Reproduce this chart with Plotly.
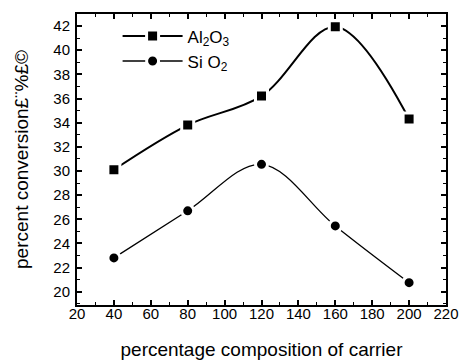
import plotly.graph_objects as go

x_vals = [40, 80, 120, 160, 200]
al2o3 = [30.1, 33.8, 36.2, 41.95, 34.3]
sio2 = [22.8, 26.7, 30.55, 25.45, 20.75]
x_ticks = [20, 40, 60, 80, 100, 120, 140, 160, 180, 200, 220]
y_ticks = [20, 22, 24, 26, 28, 30, 32, 34, 36, 38, 40, 42]

FONT = "Liberation Sans, Arial"

fig = go.Figure()
fig.add_trace(go.Scatter(
    x=x_vals, y=al2o3, mode="lines+markers", name="Al<sub>2</sub>O<sub>3</sub>",
    line=dict(color="black", width=2, shape="spline", smoothing=1.0),
    marker=dict(symbol="square", size=12, color="black", line=dict(color="white", width=3)),
))
fig.add_trace(go.Scatter(
    x=x_vals, y=sio2, mode="lines+markers", name="Si O<sub>2</sub>",
    line=dict(color="black", width=1.3, shape="spline", smoothing=1.0),
    marker=dict(symbol="circle", size=12, color="black", line=dict(color="white", width=3)),
))

axis_common = dict(
    showline=True, linecolor="black", linewidth=2, mirror="allticks",
    ticks="inside", ticklen=5, tickwidth=1.5, tickcolor="black",
    showgrid=False, zeroline=False, automargin=False,
    tickfont=dict(family=FONT, size=15, color="black"),
)

fig.update_xaxes(
    range=[20, 220], tickvals=x_ticks, ticklabelstandoff=-6,
    minor=dict(ticks="inside", ticklen=3, tickwidth=1.2, tickcolor="black", dtick=10),
    title=dict(text="percentage composition of carrier",
               font=dict(family=FONT, size=19, color="black"), standoff=24),
    **axis_common,
)
fig.update_yaxes(
    range=[18.9, 43.0], tickvals=y_ticks, ticklabelstandoff=2,
    minor=dict(ticks="inside", ticklen=3, tickwidth=1.2, tickcolor="black", dtick=1),
    title=dict(text="percent conversion£¨%£©",
               font=dict(family=FONT, size=19, color="black"), standoff=20),
    **axis_common,
)

fig.update_layout(
    width=460, height=360,
    margin=dict(l=77, r=14, t=14, b=55),
    paper_bgcolor="white", plot_bgcolor="white",
    legend=dict(x=0.11, y=0.985, xanchor="left", yanchor="top",
                bgcolor="rgba(0,0,0,0)", font=dict(family=FONT, size=17, color="black"),
                itemwidth=60, tracegroupgap=0),
    showlegend=True,
)

fig.write_html("out.html")
